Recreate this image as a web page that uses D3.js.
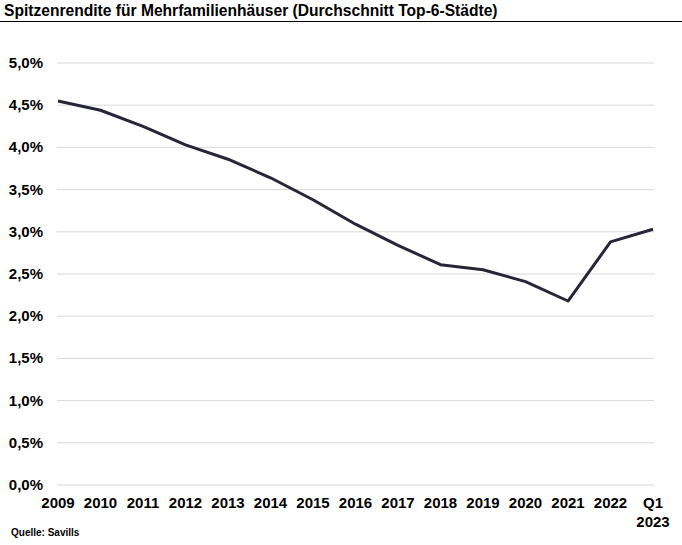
<!DOCTYPE html>
<html>
<head>
<meta charset="utf-8">
<script src="https://cdn.jsdelivr.net/npm/d3@7"></script>
<style>
  body { margin: 0; background: #fff; }
  text { font-family: "Liberation Sans", Arial, sans-serif; font-weight: bold; fill: #000; }
</style>
</head>
<body>
<div id="chart"></div>
<script>
var years = ["2009", "2010", "2011", "2012", "2013", "2014", "2015", "2016", "2017", "2018", "2019", "2020", "2021", "2022", "Q1 2023"];
var rendite = [4.55, 4.44, 4.25, 4.03, 3.86, 3.64, 3.38, 3.09, 2.84, 2.61, 2.55, 2.41, 2.18, 2.88, 3.03];
var yTicks = [0, 0.5, 1, 1.5, 2, 2.5, 3, 3.5, 4, 4.5, 5];

var width = 682, height = 545;
var svg = d3.select("#chart").append("svg").attr("width", width).attr("height", height);

// Titel mit Linie
svg.append("text")
    .attr("x", 4)
    .attr("y", 16)
    .attr("font-size", "15.6px")
    .text("Spitzenrendite für Mehrfamilienhäuser (Durchschnitt Top-6-Städte)");
svg.append("line")
    .attr("x1", 0).attr("x2", width)
    .attr("y1", 21.5).attr("y2", 21.5)
    .attr("stroke", "#000").attr("stroke-width", 1);

var xScale = d3.scalePoint()
    .domain(years)
    .range([58, 653]);

var yScale = d3.scaleLinear()
    .domain([0, 5])
    .range([485, 63]);

// Gitterlinien
svg.append("g")
    .selectAll("line")
    .data(yTicks)
    .enter()
    .append("line")
    .attr("x1", 57).attr("x2", 654)
    .attr("y1", d => yScale(d)).attr("y2", d => yScale(d))
    .attr("stroke", "#d9d9d9")
    .attr("stroke-width", 1);

var fmt = d => d.toFixed(1).replace(".", ",") + "%";

svg.append("g")
    .selectAll("text")
    .data(yTicks)
    .enter()
    .append("text")
    .attr("x", 43)
    .attr("y", d => yScale(d) + 5)
    .attr("text-anchor", "end")
    .attr("font-size", "15px")
    .text(fmt);

// x-Achsenbeschriftung
var xl = svg.append("g")
    .selectAll("text")
    .data(years)
    .enter()
    .append("text")
    .attr("x", d => xScale(d))
    .attr("y", 508)
    .attr("text-anchor", "middle")
    .attr("font-size", "15px");
xl.each(function(d) {
    var parts = d.split(" ");
    var t = d3.select(this);
    parts.forEach(function(p, i) {
        t.append("tspan").attr("x", xScale(d)).attr("dy", i == 0 ? 0 : 19).text(p);
    });
});

// Linie
var line = d3.line()
    .x((d, i) => xScale(years[i]))
    .y(d => yScale(d));

svg.append("path")
    .attr("d", line(rendite))
    .attr("fill", "none")
    .attr("stroke", "#262637")
    .attr("stroke-width", 3)
    .attr("stroke-linejoin", "round");

// Quelle
svg.append("text")
    .attr("x", 11)
    .attr("y", 536)
    .attr("font-size", "10px")
    .text("Quelle: Savills");
</script>
</body>
</html>
